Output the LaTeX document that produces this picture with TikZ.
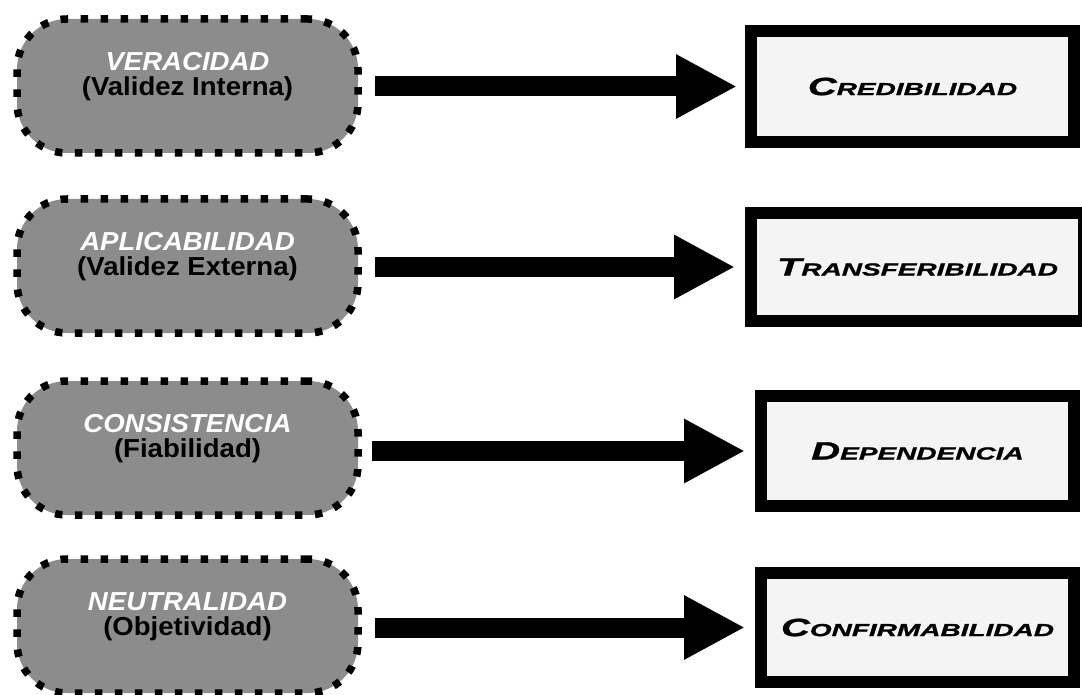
\documentclass[tikz,border=0pt]{standalone}
\usepackage{fontspec}
\setmainfont{Liberation Sans}
\newfontfamily\pillfont[FakeStretch=1.06]{Liberation Sans}
\newfontfamily\widefont[FakeStretch=1.6, BoldItalicFeatures={FakeBold=1.2}]{Liberation Sans}
\usetikzlibrary{arrows.meta}
\definecolor{pillgray}{HTML}{8C8C8C}
\definecolor{boxfill}{HTML}{F4F4F4}
% large initial capital followed by reduced capitals
\newcommand{\capsword}[2]{{\fontsize{25}{25}\selectfont #1}{\fontsize{17.5}{25}\selectfont #2}}
\newcommand{\pilltext}[2]{\textcolor{white}{\itshape #1}\\#2}

\tikzset{
  pill/.style={draw=black, fill=pillgray, line width=7.5pt,
    dash pattern=on 7.5pt off 12.5pt, rounded corners=50pt,
    minimum width=341pt, minimum height=134pt, inner sep=0pt, outer sep=0pt,
    align=center, text depth=24pt,
    font=\pillfont\bfseries\fontsize{26}{25}\selectfont},
  target/.style={draw=black, fill=boxfill, line width=12pt,
    inner sep=0pt, outer sep=0pt, font=\widefont\bfseries\itshape},
  conn/.style={line width=20pt, -{Triangle[length=61pt,width=60pt]}}
}

\begin{document}
\begin{tikzpicture}[x=1pt, y=-1pt]
  \useasboundingbox (0,0) rectangle (1082,695);

  % criteria on the left
  \node[pill] (l1) at (187.5,86)  {\pilltext{VERACIDAD}{(Validez Interna)}};
  \node[pill] (l2) at (187.5,266) {\pilltext{APLICABILIDAD}{(Validez Externa)}};
  \node[pill] (l3) at (187.5,448) {\pilltext{CONSISTENCIA}{(Fiabilidad)}};
  \node[pill] (l4) at (187.5,626) {\pilltext{NEUTRALIDAD}{(Objetividad)}};

  % corresponding criteria on the right
  \node[target, minimum width=323pt, minimum height=111pt] (r1) at (912.5,86.5) {\capsword{C}{REDIBILIDAD}};
  \node[target, minimum width=333pt, minimum height=108pt] (r2) at (917.5,267)  {\capsword{T}{RANSFERIBILIDAD}};
  \node[target, minimum width=313pt, minimum height=110pt] (r3) at (917.5,451)  {\capsword{D}{EPENDENCIA}};
  \node[target, minimum width=313pt, minimum height=109pt] (r4) at (917.5,627.5) {\capsword{C}{ONFIRMABILIDAD}};

  % arrows
  \draw[conn, shorten <=17pt, shorten >=14pt] (l1.east |- r1.west) -- (r1.west);
  \draw[conn, shorten <=17pt, shorten >=16pt] (l2.east |- r2.west) -- (r2.west);
  \draw[conn, shorten <=14pt, shorten >=16pt] (l3.east |- r3.west) -- (r3.west);
  \draw[conn, shorten <=17pt, shorten >=16pt] (l4.east |- r4.west) -- (r4.west);
\end{tikzpicture}
\end{document}
